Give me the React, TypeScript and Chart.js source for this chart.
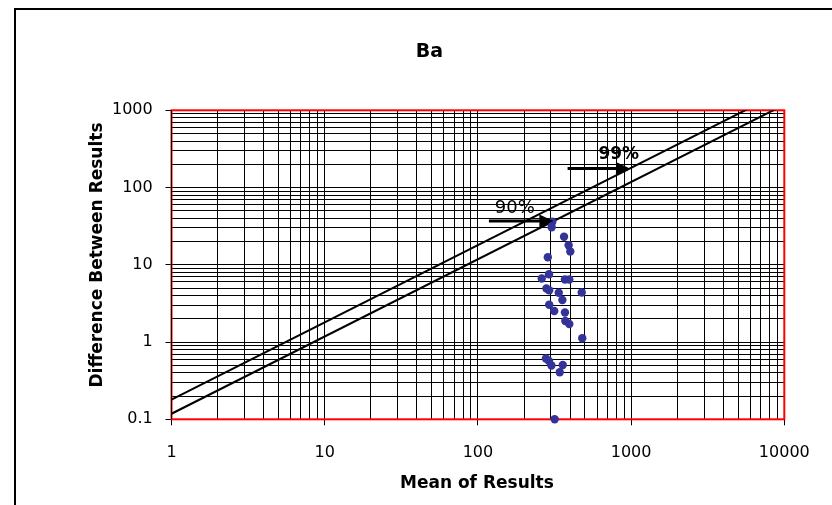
import React, { useEffect, useRef } from 'react';
import { Chart, registerables } from 'chart.js';

Chart.register(...registerables);

const chartTitle = 'Ba';
const xAxisTitle = 'Mean of Results';
const yAxisTitle = 'Difference Between Results';

const xMajorTicks = [1, 10, 100, 1000, 10000];
const yMajorTicks = [0.1, 1, 10, 100, 1000];
const minorMultipliers = [2, 3, 4, 5, 6, 7, 8, 9];

const meanValues = [306, 303, 365, 391, 401, 286, 291, 261, 370, 395, 280, 292, 337, 476, 292, 356, 315, 370, 372, 395, 480, 278, 291, 302, 358, 342, 317];
const diffValues = [36.1, 30.6, 23.1, 17.9, 14.9, 12.5, 7.54, 6.65, 6.45, 6.45, 4.93, 4.68, 4.35, 4.38, 3.04, 3.5, 2.52, 2.41, 1.87, 1.71, 1.12, 0.613, 0.569, 0.497, 0.505, 0.407, 0.1];

const line90X = [1, 10000];
const line90Y = [0.118, 1180];
const line99X = [1, 10000];
const line99Y = [0.18, 1800];

const arrowLabels = ['90%', '99%'];
const arrowStartX = [118, 385];
const arrowEndX = [311, 983];
const arrowY = [36.9, 177];
const arrowLabelX = [174, 831];
const arrowLabelY = [57, 282];
const arrowLabelBold = [false, true];

const FONT = 'DejaVu Sans';
const W = 832;
const H = 505;
const AREA_LEFT = 171.5;
const AREA_TOP = 110.3;
const AREA_RIGHT = 784.3;
const AREA_BOTTOM = 419.3;

function buildTicks(majors: number[]) {
  const out: { value: number; major: boolean }[] = [];
  majors.forEach((d, i) => {
    out.push({ value: d, major: true });
    if (i < majors.length - 1) {
      minorMultipliers.forEach((m) => out.push({ value: d * m, major: false }));
    }
  });
  return out;
}

const decorPlugin = {
  id: 'decor',
  beforeDraw(chart: any) {
    const { ctx } = chart;
    ctx.save();
    ctx.fillStyle = '#ffffff';
    ctx.fillRect(0, 0, W, H);
    ctx.fillStyle = '#000';
    ctx.fillRect(14, 8, W - 14, 2);
    ctx.fillRect(14, 8, 2, H - 8);
    ctx.restore();
  },
  beforeDatasetsDraw(chart: any) {
    const { ctx, chartArea: a } = chart;
    ctx.save();
    ctx.strokeStyle = '#ff0000';
    ctx.lineWidth = 2;
    ctx.strokeRect(a.left, a.top, a.right - a.left, a.bottom - a.top);
    ctx.strokeStyle = '#000000';
    ctx.lineWidth = 1;
    ctx.beginPath();
    ctx.moveTo(a.left, a.top);
    ctx.lineTo(a.left, a.bottom);
    ctx.stroke();
    ctx.restore();
  },
  afterDatasetsDraw(chart: any) {
    const { ctx } = chart;
    const xs = chart.scales.x;
    const ys = chart.scales.y;
    ctx.save();
    ctx.fillStyle = '#000';
    ctx.strokeStyle = '#000';
    arrowLabels.forEach((lab, i) => {
      const x0 = xs.getPixelForValue(arrowStartX[i]);
      const x1 = xs.getPixelForValue(arrowEndX[i]);
      const y = ys.getPixelForValue(arrowY[i]);
      const headLen = 14;
      const headHalf = 6.5;
      ctx.lineWidth = 3;
      ctx.beginPath();
      ctx.moveTo(x0, y);
      ctx.lineTo(x1 - headLen + 1, y);
      ctx.stroke();
      ctx.beginPath();
      ctx.moveTo(x1, y);
      ctx.lineTo(x1 - headLen, y - headHalf);
      ctx.lineTo(x1 - headLen, y + headHalf);
      ctx.closePath();
      ctx.fill();
      const size = arrowLabelBold[i] ? 17 : 18;
      ctx.font = `${arrowLabelBold[i] ? 'bold ' : ''}${size}px "${FONT}"`;
      ctx.textAlign = 'center';
      ctx.textBaseline = 'alphabetic';
      const lx = xs.getPixelForValue(arrowLabelX[i]);
      const ly = ys.getPixelForValue(arrowLabelY[i]);
      ctx.fillText(lab, lx, ly + 0.3645 * size);
    });
    ctx.restore();
  },
  afterDraw(chart: any) {
    const { ctx, chartArea: a } = chart;
    ctx.save();
    ctx.fillStyle = '#000';
    ctx.textAlign = 'center';
    ctx.textBaseline = 'alphabetic';
    ctx.font = `bold 19px "${FONT}"`;
    ctx.fillText(chartTitle, 429.5, 50 + 0.3645 * 19);
    ctx.font = `bold 17px "${FONT}"`;
    ctx.fillText(xAxisTitle, (a.left + a.right) / 2 - 1, 482 + 0.3645 * 17);
    ctx.translate(95.5 + 0.3645 * 17, 255);
    ctx.rotate(-Math.PI / 2);
    ctx.fillText(yAxisTitle, 0, 0);
    ctx.restore();
  },
};

export default function App() {
  const ref = useRef<HTMLCanvasElement>(null);

  useEffect(() => {
    document.documentElement.style.overflow = 'hidden';
    document.body.style.overflow = 'hidden';
    document.body.style.margin = '0';
    const canvas = ref.current;
    if (!canvas) return;
    const xTicks = buildTicks(xMajorTicks);
    const yTicks = buildTicks(yMajorTicks);

    const chart = new Chart(canvas, {
      type: 'scatter',
      data: {
        datasets: [
          {
            label: 'data',
            data: meanValues.map((x, i) => ({ x, y: diffValues[i] })),
            backgroundColor: '#333399',
            borderColor: '#333399',
            pointRadius: 4.2,
            pointBorderWidth: 0,
            pointHoverRadius: 4.2,
            clip: false,
          } as any,
          {
            label: '90%',
            data: line90X.map((x, i) => ({ x, y: line90Y[i] })),
            showLine: true,
            borderColor: '#000',
            borderWidth: 2,
            pointRadius: 0,
            pointHoverRadius: 0,
          } as any,
          {
            label: '99%',
            data: line99X.map((x, i) => ({ x, y: line99Y[i] })),
            showLine: true,
            borderColor: '#000',
            borderWidth: 2,
            pointRadius: 0,
            pointHoverRadius: 0,
          } as any,
        ],
      },
      options: {
        animation: false,
        responsive: false,
        maintainAspectRatio: false,
        events: [],
        layout: { padding: { left: 0, top: AREA_TOP, right: W - AREA_RIGHT, bottom: 0 } },
        plugins: {
          legend: { display: false },
          tooltip: { enabled: false },
          title: { display: false },
        },
        scales: {
          x: {
            type: 'logarithmic',
            min: 1,
            max: 10000,
            afterBuildTicks: (scale: any) => {
              scale.ticks = xTicks.map((t) => ({ ...t }));
            },
            afterFit: (scale: any) => {
              scale.height = H - AREA_BOTTOM;
            },
            border: { display: false },
            grid: {
              color: '#000',
              lineWidth: 1,
              tickLength: 6,
              tickColor: (ctx: any) => (ctx.tick && ctx.tick.major ? '#000' : 'rgba(0,0,0,0)'),
            },
            ticks: {
              autoSkip: false,
              maxRotation: 0,
              minRotation: 0,
              padding: 17.8,
              color: '#000',
              font: { family: FONT, size: 16 },
              callback: (v: any) => (xMajorTicks.includes(v) ? String(v) : ''),
            },
          },
          y: {
            type: 'logarithmic',
            min: 0.1,
            max: 1000,
            afterBuildTicks: (scale: any) => {
              scale.ticks = yTicks.map((t) => ({ ...t }));
            },
            afterFit: (scale: any) => {
              scale.width = AREA_LEFT;
            },
            border: { display: false },
            grid: {
              color: '#000',
              lineWidth: 1,
              tickLength: 6,
              tickColor: (ctx: any) => (ctx.tick && ctx.tick.major ? '#000' : 'rgba(0,0,0,0)'),
            },
            ticks: {
              autoSkip: false,
              padding: 12.8,
              color: '#000',
              font: { family: FONT, size: 16 },
              callback: (v: any) => (yMajorTicks.includes(v) ? String(v) : ''),
            },
          },
        },
      } as any,
      plugins: [decorPlugin],
    });
    return () => chart.destroy();
  }, []);

  return <canvas ref={ref} width={W} height={H} style={{ display: 'block' }} />;
}
